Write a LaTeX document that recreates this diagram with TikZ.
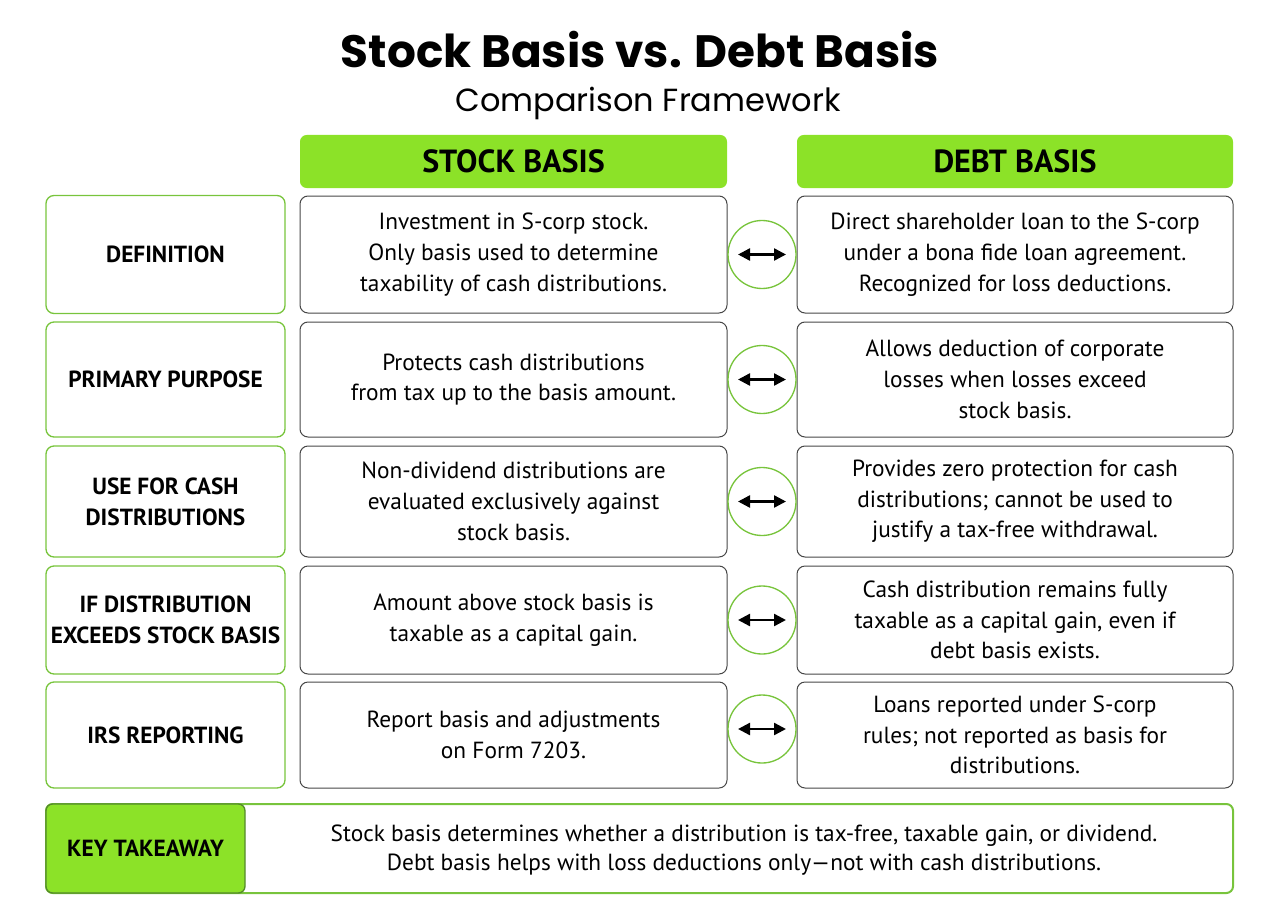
\documentclass[tikz,border=0pt]{standalone}
\usepackage{fontspec}
\setmainfont{PT Sans}
\newfontfamily\titlefont{Poppins}
\usetikzlibrary{arrows.meta}
\definecolor{lime}{RGB}{140,226,40}
\definecolor{limeline}{RGB}{120,196,60}
\definecolor{boxline}{RGB}{70,70,70}
\tikzset{every picture/.style={line width=0.75pt},
  rowlabel/.style={draw=limeline,rounded corners=6pt,line width=1pt,align=center,font=\fontsize{17.5}{23}\selectfont\bfseries,inner sep=0pt},
  cell/.style={draw=boxline,rounded corners=6pt,align=center,font=\fontsize{17.5}{23}\selectfont,inner sep=0pt},
  colhead/.style={fill=lime,rounded corners=5pt,font=\fontsize{24}{28}\selectfont\bfseries,inner sep=0pt},
  linkring/.style={circle,draw=limeline,line width=1pt,minimum size=51pt,inner sep=0pt},
  linkarrow/.style={{Stealth[length=9pt,width=9pt,inset=0pt]}-{Stealth[length=9pt,width=9pt,inset=0pt]},line width=1.8pt}}

\begin{document}
\begin{tikzpicture}[x=0.75pt,y=0.75pt,yscale=-1,xscale=1]
\useasboundingbox (0,0) rectangle (1280,920);

% Title
\node (title) at (640,50) {\titlefont\fontsize{34}{40}\selectfont\bfseries Stock Basis vs. Debt Basis};
\node (subtitle) at (648,103) {\titlefont\fontsize{24}{28}\selectfont Comparison Framework};

% Column heads
\node [colhead,minimum width=320.25pt,minimum height=39.75pt] (hstock) at (513.5,161.5) {STOCK BASIS};
\node [colhead,minimum width=327pt,minimum height=39.75pt] (hdebt) at (1015,161.5) {DEBT BASIS};

% Row 1
\node [rowlabel,minimum width=179.25pt,minimum height=88.5pt] (l1) at (165.5,254.5) {DEFINITION};
\node [cell,minimum width=320.25pt,minimum height=87.75pt] (s1) at (513.5,254.5) {Investment in S-corp stock.\\Only basis used to determine\\taxability of cash distributions.};
\node [cell,minimum width=327pt,minimum height=87.75pt] (d1) at (1015,254.5) {Direct shareholder loan to the S-corp\\under a bona fide loan agreement.\\Recognized for loss deductions.};
\node [linkring] (c1) at (762,254.5) {};

% Row 2
\node [rowlabel,minimum width=179.25pt,minimum height=86.25pt] (l2) at (165.5,379.5) {PRIMARY PURPOSE};
\node [cell,minimum width=320.25pt,minimum height=86.25pt] (s2) at (513.5,379.5) {Protects cash distributions\\from tax up to the basis amount.};
\node [cell,minimum width=327pt,minimum height=86.25pt] (d2) at (1015,379.5) {Allows deduction of corporate\\losses when losses exceed\\stock basis.};
\node [linkring] (c2) at (762,379.5) {};

% Row 3
\node [rowlabel,minimum width=179.25pt,minimum height=83.25pt] (l3) at (165.5,501.5) {USE FOR CASH\\DISTRIBUTIONS};
\node [cell,minimum width=320.25pt,minimum height=83.25pt] (s3) at (513.5,501.5) {Non-dividend distributions are\\evaluated exclusively against\\stock basis.};
\node [cell,minimum width=327pt,minimum height=83.25pt] (d3) at (1015,501.5) {Provides zero protection for cash\\distributions; cannot be used to\\justify a tax-free withdrawal.};
\node [linkring] (c3) at (762,501.5) {};

% Row 4
\node [rowlabel,minimum width=179.25pt,minimum height=81pt] (l4) at (165.5,620) {IF DISTRIBUTION\\EXCEEDS STOCK BASIS};
\node [cell,minimum width=320.25pt,minimum height=81pt] (s4) at (513.5,620) {Amount above stock basis is\\taxable as a capital gain.};
\node [cell,minimum width=327pt,minimum height=81pt] (d4) at (1015,620) {Cash distribution remains fully\\taxable as a capital gain, even if\\debt basis exists.};
\node [linkring] (c4) at (762,620) {};

% Row 5
\node [rowlabel,minimum width=179.25pt,minimum height=79.5pt] (l5) at (165.5,735) {IRS REPORTING};
\node [cell,minimum width=320.25pt,minimum height=79.5pt] (s5) at (513.5,735) {Report basis and adjustments\\on Form 7203.};
\node [cell,minimum width=327pt,minimum height=79.5pt] (d5) at (1015,735) {Loans reported under S-corp\\rules; not reported as basis for\\distributions.};
\node [linkring] (c5) at (762,729) {};

% Link arrows
\foreach \c in {c1,c2,c3,c4,c5}
  \draw [linkarrow] ([xshift=-18pt]\c.center) -- ([xshift=18pt]\c.center);

% Key takeaway
\node [draw=limeline,line width=1.5pt,rounded corners=5pt,minimum width=890.25pt,minimum height=66.75pt,inner sep=0pt] (take) at (639.5,848.5) {};
\node [fill=lime,draw=limeline!70!black,line width=1pt,rounded corners=5pt,minimum width=149.25pt,minimum height=66.75pt,inner sep=0pt,font=\fontsize{17.5}{23}\selectfont\bfseries] (takelabel) at (145.5,848.5) {KEY TAKEAWAY};
\node [align=center,font=\fontsize{17.5}{22}\selectfont] (taketext) at (744,850) {Stock basis determines whether a distribution is tax-free, taxable gain, or dividend.\\Debt basis helps with loss deductions only---not with cash distributions.};
\end{tikzpicture}
\end{document}
